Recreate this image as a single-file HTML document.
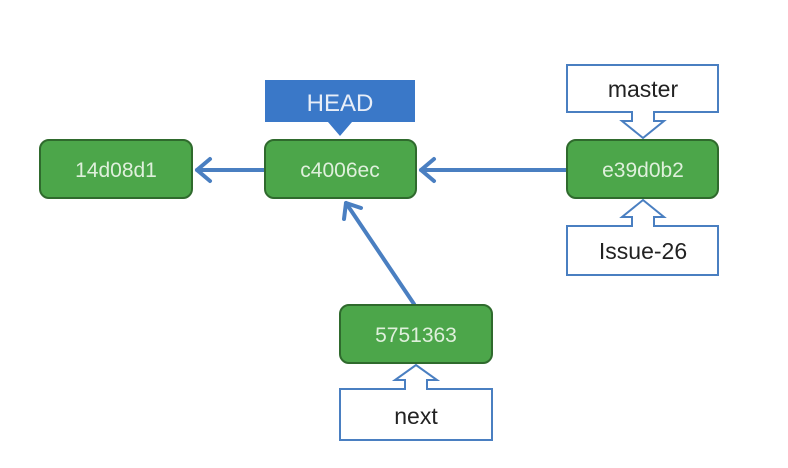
<!DOCTYPE html>
<html><head><meta charset="utf-8"><style>
html,body{margin:0;padding:0;background:#fff;}
svg{display:block;}
text{font-family:"Liberation Sans",sans-serif;}
</style></head><body>
<svg width="788" height="468" viewBox="0 0 788 468" xmlns="http://www.w3.org/2000/svg">
<g stroke="#4a7fc1" stroke-width="4" fill="none" stroke-linecap="round" stroke-linejoin="round">
<line x1="265" y1="170" x2="197" y2="170"/>
<polyline points="210,159 197,170 210,181"/>
<line x1="566" y1="170" x2="421" y2="170"/>
<polyline points="434,159 421,170 434,181"/>
<line x1="414" y1="304" x2="346" y2="203"/>
<polyline points="344,219 346,203 361,208"/>
</g>
<!-- HEAD -->
<path d="M265,80 H415 V122 H352 L340,136 L328,122 H265 Z" fill="#3a78c8"/>
<text x="340" y="111" font-size="24" fill="#e8eef8" text-anchor="middle">HEAD</text>
<!-- callouts -->
<g fill="#fff" stroke="#4a7fc1" stroke-width="2">
<path d="M567,65 H718 V112 H654 V121 H664 L643,138 L622,121 H632 V112 H567 Z"/>
<path d="M567,275 H718 V226 H654 V217 H664 L643,200 L622,217 H632 V226 H567 Z"/>
<path d="M340,440 H492 V389 H427 V380 H437 L416,365 L395,380 H405 V389 H340 Z"/>
</g>
<text x="643" y="97" font-size="23" fill="#222" text-anchor="middle">master</text>
<text x="643" y="259" font-size="23" fill="#222" text-anchor="middle">Issue-26</text>
<text x="416" y="424" font-size="23" fill="#222" text-anchor="middle">next</text>
<!-- commits -->
<g fill="#4ca64a" stroke="#2f6a2d" stroke-width="2">
<rect x="40" y="140" width="152" height="58" rx="9"/>
<rect x="265" y="140" width="151" height="58" rx="9"/>
<rect x="567" y="140" width="151" height="58" rx="9"/>
<rect x="340" y="305" width="152" height="58" rx="9"/>
</g>
<g font-size="21" fill="#dff0dc" text-anchor="middle">
<text x="116" y="177">14d08d1</text>
<text x="340" y="177">c4006ec</text>
<text x="643" y="177">e39d0b2</text>
<text x="416" y="342">5751363</text>
</g>
</svg>
</body></html>
